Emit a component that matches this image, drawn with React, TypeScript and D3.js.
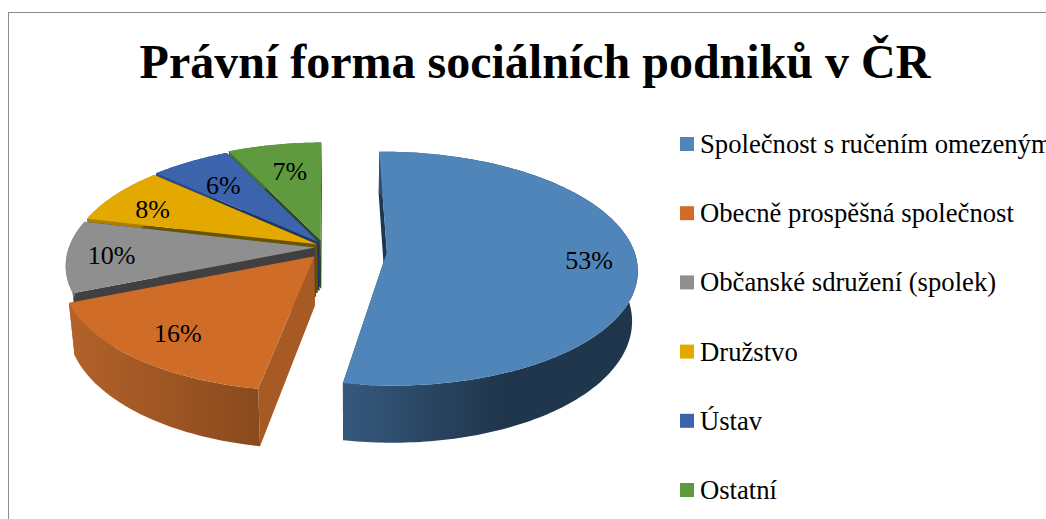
import { line, pie, range, scaleOrdinal, select } from "d3";
import { useEffect, useRef } from "react";

const CATEGORIES = [
  "Společnost s ručením omezeným",
  "Obecně prospěšná společnost",
  "Občanské sdružení (spolek)",
  "Družstvo",
  "Ústav",
  "Ostatní",
];
const VALUES = [53, 16, 10, 8, 6, 7];

const TOP_COLORS = ["#4f85b9", "#cf6c28", "#8f8f8f", "#e3a900", "#3c64ad", "#5f9a3e"];
const FACE_COLORS = ["#1f3650", "#a85a24", "#404040", "#6b5400", "#1f3563", "#2f4a1f"];
// left and right end of the rim shading
const RIM_COLORS: [string, string][] = [
  ["#35597e", "#20364d"],
  ["#b3622a", "#8a4a1d"],
  ["#7d7d7d", "#6f6f6f"],
  ["#a87f00", "#a87f00"],
  ["#2c4a80", "#2c4a80"],
  ["#47732e", "#47732e"],
];
const EXPLODE = [65, 12, 7, 6, 6, 7];
const LABEL_RADIUS = [0.81, 0.78, 0.82, 0.78, 0.7, 0.7];
const LABEL_TURN = [0, 0, 0, -3, -1, 1]; // degrees

const WIDTH = 1046;
const HEIGHT = 519;
const FONT = '"Liberation Serif", "Times New Roman", serif';
const ROTATION = (-0.8 * Math.PI) / 180;

// camera centre on screen, the pie sits a bit left and behind it
const VX = 350;
const VY = 250;
const CX = -28;
const CZ = 3;
const RX = 247;
const RZ = 114;
const K = 0.14;
const DEPTH = 49;

const project = (wx: number, wz: number): [number, number] => {
  const s = 1 / (1 + (K * wz) / RZ);
  return [VX + wx * s, VY - wz * s];
};

const projectBottom = (wx: number, wz: number): [number, number] => {
  const s = 1 / (1 + (K * wz) / RZ);
  return [VX + wx * s * 0.98, VY - wz * s + DEPTH * s];
};

export default function App() {
  const svgRef = useRef<SVGSVGElement | null>(null);

  useEffect(() => {
    const svg = svgRef.current;
    if (!svg) {
      return;
    }
    const root = select(svg);
    root.selectAll("*").remove();

    root.append("rect").attr("width", WIDTH).attr("height", HEIGHT).attr("fill", "#fff");
    root
      .append("rect")
      .attr("x", 8.5)
      .attr("y", 12.5)
      .attr("width", WIDTH + 20)
      .attr("height", HEIGHT + 20)
      .attr("fill", "none")
      .attr("stroke", "#8c8c8c");

    root
      .append("text")
      .attr("x", 535)
      .attr("y", 78)
      .attr("text-anchor", "middle")
      .attr("font-family", FONT)
      .attr("font-size", 48)
      .attr("font-weight", "bold")
      .attr("fill", "#000")
      .text("Právní forma sociálních podniků v ČR");

    const color = scaleOrdinal<string, string>().domain(CATEGORIES).range(TOP_COLORS);
    const arcs = pie<number>()
      .sort(null)
      .value((d) => d)
      .startAngle(ROTATION)
      .endAngle(ROTATION + 2 * Math.PI)(VALUES);
    const path = line();
    const defs = root.append("defs");

    // back slices first, the big front slice goes last
    const order = [5, 4, 3, 2, 1, 0];
    const labels: { x: number; y: number; text: string }[] = [];

    order.forEach((i) => {
      const arc = arcs[i];
      const mid = (arc.startAngle + arc.endAngle) / 2;
      const cx = CX + EXPLODE[i] * Math.sin(mid);
      const cz = CZ + EXPLODE[i] * Math.cos(mid);
      const steps = range(arc.startAngle, arc.endAngle, Math.PI / 180).concat(arc.endAngle);
      const rim = steps.map(
        (a) => [cx + RX * Math.sin(a), cz + RZ * Math.cos(a)] as [number, number]
      );
      const topRim = rim.map(([x, z]) => project(x, z));
      const bottomRim = rim.map(([x, z]) => projectBottom(x, z));
      const apex = project(cx, cz);
      const apexBottom = projectBottom(cx, cz);

      const g = root.append("g");

      [0, rim.length - 1].forEach((k) => {
        g.append("path")
          .attr("d", path([apex, topRim[k], bottomRim[k], apexBottom]) + "Z")
          .attr("fill", FACE_COLORS[i]);
      });

      const xs = topRim.map((p) => p[0]);
      const gradient = defs
        .append("linearGradient")
        .attr("id", `rim-${i}`)
        .attr("gradientUnits", "userSpaceOnUse")
        .attr("x1", Math.min(...xs))
        .attr("x2", i === 0 ? 500 : Math.max(...xs))
        .attr("y1", 0)
        .attr("y2", 0);
      gradient.append("stop").attr("offset", 0).attr("stop-color", RIM_COLORS[i][0]);
      gradient.append("stop").attr("offset", 1).attr("stop-color", RIM_COLORS[i][1]);

      g.append("path")
        .attr("d", path([...topRim, ...bottomRim.slice().reverse()]) + "Z")
        .attr("fill", `url(#rim-${i})`);

      g.append("path")
        .attr("d", path([apex, ...topRim]) + "Z")
        .attr("fill", color(CATEGORIES[i]));

      const labelAngle = mid + (LABEL_TURN[i] * Math.PI) / 180;
      const [lx, ly] = project(
        cx + LABEL_RADIUS[i] * RX * Math.sin(labelAngle),
        cz + LABEL_RADIUS[i] * RZ * Math.cos(labelAngle)
      );
      labels.push({ x: lx, y: ly, text: `${VALUES[i]}%` });
    });

    root
      .append("g")
      .selectAll("text")
      .data(labels)
      .enter()
      .append("text")
      .attr("x", (d) => d.x)
      .attr("y", (d) => d.y)
      .attr("dy", "0.35em")
      .attr("text-anchor", "middle")
      .attr("font-family", FONT)
      .attr("font-size", 26)
      .attr("fill", "#000")
      .text((d) => d.text);

    const legend = root
      .append("g")
      .selectAll("g")
      .data(CATEGORIES)
      .enter()
      .append("g")
      .attr("transform", (_, i) => `translate(680,${144 + i * 69.2})`);

    legend
      .append("rect")
      .attr("y", -7)
      .attr("width", 14)
      .attr("height", 14)
      .attr("fill", (d) => color(d));

    legend
      .append("text")
      .attr("x", 20)
      .attr("y", 9)
      .attr("font-family", FONT)
      .attr("font-size", 26.67)
      .attr("fill", "#000")
      .text((d) => d);
  }, []);

  return (
    <svg
      ref={svgRef}
      width={WIDTH}
      height={HEIGHT}
      style={{ position: "absolute", left: 0, top: 0, display: "block" }}
    />
  );
}
